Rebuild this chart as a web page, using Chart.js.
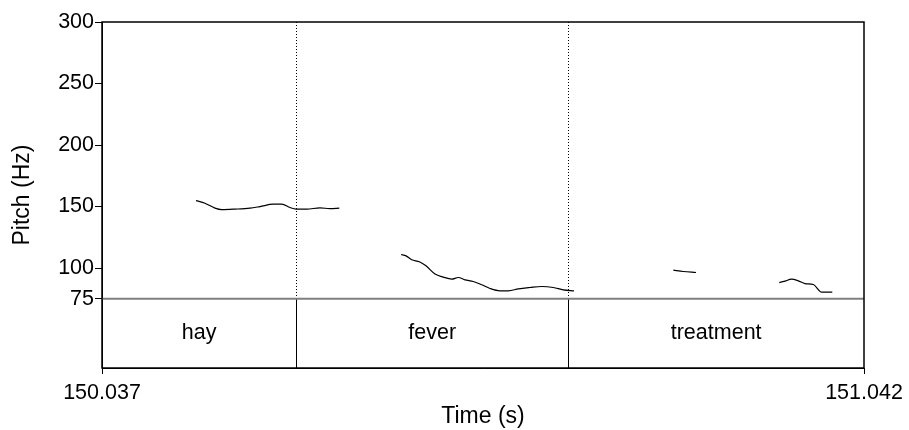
<!DOCTYPE html>
<html>
<head>
<meta charset="utf-8">
<script src="https://cdn.jsdelivr.net/npm/chart.js@4.4.1/dist/chart.umd.min.js"></script>
<style>
    html, body { margin: 0; padding: 0; background: #fff; }
    #pitchChart { display: block; }
</style>
</head>
<body>
<canvas id="pitchChart" width="909" height="430"></canvas>
<script>
// Time window (s) and pitch range (Hz)
const timeStart = 150.037;
const timeEnd = 151.042;
const pitchFloor = 75;
const pitchCeil = 300;
const pitchTicks = [75, 100, 150, 200, 250, 300];

// Word tier
const wordLabels = ["hay", "fever", "treatment"];
const wordBounds = [150.037, 150.293, 150.652, 151.042];

// Pitch contour pieces
const hayTimes = [150.161, 150.1728, 150.186, 150.1949, 150.2124, 150.2322, 150.2454, 150.2629, 150.274, 150.285, 150.2929, 150.307, 150.3245, 150.3377, 150.35];
const hayPitch = [154.8, 152.7, 148.7, 147.5, 147.9, 148.7, 150.0, 151.9, 151.9, 149.2, 147.9, 147.9, 148.9, 148.3, 148.7];

const feverTimes = [150.4314, 150.438, 150.4455, 150.4555, 150.4643, 150.4762, 150.4872, 150.4982, 150.5069, 150.5158, 150.5267, 150.5378, 150.5487, 150.5619, 150.5729, 150.5861, 150.6015, 150.6169, 150.6322, 150.6454, 150.6595];
const feverPitch = [111.0, 109.9, 106.7, 105.1, 101.8, 95.1, 92.6, 91.0, 92.3, 90.4, 89.1, 86.4, 83.4, 81.5, 81.5, 83.1, 84.2, 85.0, 84.2, 82.3, 81.5];

const treatTimes1 = [150.7905, 150.8037, 150.8204];
const treatPitch1 = [98.3, 97.2, 96.4];

const treatTimes2 = [150.9303, 150.9365, 150.9467, 150.9554, 150.9642, 150.9752, 150.9862, 151.0002];
const treatPitch2 = [88.2, 89.1, 91.0, 89.6, 87.4, 86.6, 80.4, 80.4];

// tier band sits under the pitch floor, a quarter of the pitch span tall
const axisMin = pitchFloor - (pitchCeil - pitchFloor) * 0.25;

const FONT = "'Liberation Sans', Arial, Helvetica, sans-serif";
const LABEL_SIZE = 21.5;
const TITLE_SIZE = 23;

function toPoints(times, values) {
    return times.map((t, i) => ({ x: t, y: values[i] }));
}

function contour(times, values) {
    return {
        data: toPoints(times, values),
        showLine: true,
        borderColor: "#000",
        borderWidth: 1.2,
        pointRadius: 0,
        tension: 0.3,
        cubicInterpolationMode: "monotone",
        fill: false,
    };
}

// frame, floor line, tier boundaries and words
const tierPlugin = {
    id: "tierPlugin",
    afterDatasetsDraw(chart) {
        const { ctx, chartArea, scales } = chart;
        const xs = scales.x;
        const floorY = scales.y.getPixelForValue(pitchFloor);

        ctx.save();
        // boundaries: dotted over the pitch area, solid in the tier
        ctx.strokeStyle = "#000";
        ctx.lineWidth = 1;
        wordBounds.slice(1, -1).forEach(b => {
            const px = Math.round(xs.getPixelForValue(b)) + 0.5;
            ctx.setLineDash([1, 2]);
            ctx.beginPath();
            ctx.moveTo(px, chartArea.top);
            ctx.lineTo(px, floorY);
            ctx.stroke();
            ctx.setLineDash([]);
            ctx.beginPath();
            ctx.moveTo(px, floorY);
            ctx.lineTo(px, chartArea.bottom);
            ctx.stroke();
        });

        // pitch floor line
        ctx.strokeStyle = "#7f7f7f";
        ctx.lineWidth = 2;
        ctx.beginPath();
        ctx.moveTo(chartArea.left, floorY);
        ctx.lineTo(chartArea.right, floorY);
        ctx.stroke();

        // outer frame
        ctx.strokeStyle = "#000";
        ctx.lineWidth = 1.5;
        ctx.strokeRect(chartArea.left, chartArea.top, chartArea.right - chartArea.left, chartArea.bottom - chartArea.top);

        // words
        ctx.fillStyle = "#000";
        ctx.font = LABEL_SIZE + "px " + FONT;
        ctx.textAlign = "center";
        ctx.textBaseline = "middle";
        const midY = (floorY + chartArea.bottom) / 2;
        wordLabels.forEach((w, i) => {
            const cx = xs.getPixelForValue((wordBounds[i] + wordBounds[i + 1]) / 2);
            ctx.fillText(w, cx, midY);
        });
        ctx.restore();
    }
};

new Chart(document.getElementById("pitchChart"), {
    type: "scatter",
    data: {
        datasets: [
            contour(hayTimes, hayPitch),
            contour(feverTimes, feverPitch),
            contour(treatTimes1, treatPitch1),
            contour(treatTimes2, treatPitch2),
        ],
    },
    options: {
        responsive: false,
        animation: false,
        devicePixelRatio: 1,
        layout: { padding: { top: 22, right: 45, left: 0, bottom: 0 } },
        plugins: {
            legend: { display: false },
            tooltip: { enabled: false },
        },
        scales: {
            x: {
                type: "linear",
                min: timeStart,
                max: timeEnd,
                afterBuildTicks: (scale) => {
                    scale.ticks = [{ value: timeStart }, { value: timeEnd }];
                },
                afterFit: (scale) => { scale.height = 62; },
                ticks: {
                    color: "#000",
                    font: { family: FONT, size: LABEL_SIZE },
                    padding: 6,
                    maxRotation: 0,
                    callback: (v) => Number(v).toFixed(3),
                },
                grid: { drawOnChartArea: false, drawTicks: true, tickLength: 6, color: "#000" },
                border: { display: true, color: "#000", width: 1 },
                title: {
                    display: true,
                    text: "Time (s)",
                    color: "#000",
                    font: { family: FONT, size: TITLE_SIZE },
                    padding: { top: 0, bottom: 0 },
                },
            },
            y: {
                type: "linear",
                min: axisMin,
                max: pitchCeil,
                afterBuildTicks: (scale) => {
                    scale.ticks = pitchTicks.map(v => ({ value: v }));
                },
                afterFit: (scale) => { scale.width = 102; },
                ticks: {
                    color: "#000",
                    font: { family: FONT, size: LABEL_SIZE },
                    padding: 1,
                    callback: (v) => String(v),
                },
                grid: { drawOnChartArea: false, drawTicks: true, tickLength: 7, color: "#000" },
                border: { display: true, color: "#000", width: 1 },
                title: {
                    display: true,
                    text: "Pitch (Hz)",
                    color: "#000",
                    font: { family: FONT, size: TITLE_SIZE },
                    padding: { top: 9, bottom: 0 },
                },
            },
        },
    },
    plugins: [tierPlugin],
});
</script>
</body>
</html>
